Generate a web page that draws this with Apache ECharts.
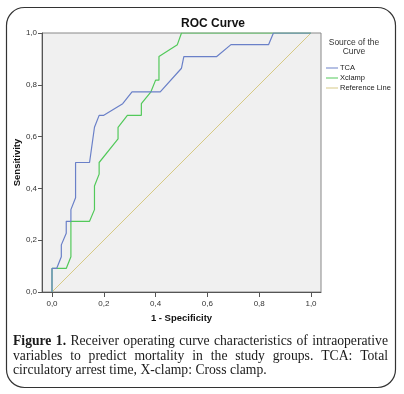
<!DOCTYPE html>
<html>
<head>
<meta charset="utf-8">
<script src="https://cdn.jsdelivr.net/npm/echarts@6/dist/echarts.min.js"></script>
<style>html,body{margin:0;padding:0;background:#fff}#c{width:404px;height:394px}</style>
</head>
<body>
<div id="c"></div>
<script>
// ---- data ----
var tickValues = [0, 0.2, 0.4, 0.6, 0.8, 1.0];
var tcaFpr = [0, 0, 0.018, 0.036, 0.036, 0.055, 0.055, 0.073, 0.073, 0.091, 0.091, 0.145, 0.164, 0.182, 0.2, 0.273, 0.309, 0.418, 0.5, 0.509, 0.636, 0.691, 0.836, 0.855, 1];
var tcaTpr = [0, 0.091, 0.091, 0.136, 0.182, 0.227, 0.273, 0.273, 0.318, 0.364, 0.5, 0.5, 0.636, 0.682, 0.682, 0.727, 0.773, 0.773, 0.864, 0.909, 0.909, 0.955, 0.955, 1, 1];
var xcFpr = [0, 0, 0.055, 0.073, 0.073, 0.145, 0.164, 0.164, 0.182, 0.182, 0.255, 0.255, 0.291, 0.345, 0.345, 0.382, 0.4, 0.413, 0.413, 0.484, 0.5, 1];
var xcTpr = [0, 0.091, 0.091, 0.136, 0.273, 0.273, 0.318, 0.409, 0.455, 0.5, 0.591, 0.636, 0.682, 0.682, 0.727, 0.773, 0.818, 0.818, 0.909, 0.955, 1, 1];
var refX = [0, 1];
var refY = [0, 1];
var seriesNames = ['TCA', 'Xclamp', 'Reference Line'];
var captionLines = [
  'Receiver operating curve characteristics of intraoperative',
  'variables to predict mortality in the study groups. TCA: Total',
  'circulatory arrest time, X-clamp: Cross clamp.'
];

function pairs(xs, ys) { return xs.map(function (x, i) { return [x, ys[i]]; }); }
function fmt(v) { return v.toFixed(1).replace('.', ','); }

// ---- caption layout (justified) ----
var capFamily = '"Liberation Serif", serif';
var mctx = document.createElement('canvas').getContext('2d');
function measure(t, size, weight) {
  mctx.font = (weight || 'normal') + ' ' + size + 'px ' + capFamily;
  return mctx.measureText(t).width;
}
var capLeft = 13, capRight = 388, capY = [341, 356, 370.5];
var capSize = 10 * 254 / measure(captionLines[2], 10);
var capEls = [];
function justify(words, y, weights, justifyIt) {
  var widths = words.map(function (w, i) { return measure(w, capSize, weights[i]); });
  var total = widths.reduce(function (a, b) { return a + b; }, 0);
  var space = measure(' ', capSize);
  var gap = justifyIt ? (capRight - capLeft - total) / (words.length - 1) : space;
  var x = capLeft;
  words.forEach(function (w, i) {
    capEls.push({ type: 'text', x: x, y: y, style: { text: w, font: weights[i] + ' ' + capSize.toFixed(2) + 'px ' + capFamily, fill: '#1a1a1a', textVerticalAlign: 'middle' } });
    x += widths[i] + gap;
  });
}
(function () {
  var w1 = ['Figure', '1.'].concat(captionLines[0].split(' '));
  justify(w1, capY[0], w1.map(function (w, i) { return i < 2 ? 'bold' : 'normal'; }), true);
  var w2 = captionLines[1].split(' ');
  justify(w2, capY[1], w2.map(function () { return 'normal'; }), true);
  var w3 = captionLines[2].split(' ');
  justify(w3, capY[2], w3.map(function () { return 'normal'; }), false);
})();

var chart = echarts.init(document.getElementById('c'), null, { renderer: 'canvas' });
var axisFont = { fontFamily: 'Liberation Sans', fontSize: 8, color: '#333' };
var option = {
  animation: false,
  grid: { left: 42, right: 83, top: 33, bottom: 102, show: true, backgroundColor: '#f0f0f0', borderColor: '#888', borderWidth: 1, containLabel: false, outerBoundsMode: 'none' },
  xAxis: {
    type: 'value', min: -0.0386, max: 1.0386,
    name: '1 - Specificity', nameLocation: 'middle', nameGap: 21, nameMoveOverlap: false,
    nameTextStyle: { fontFamily: 'Liberation Sans', fontWeight: 'bold', fontSize: 9.5, color: '#111' },
    axisLine: { show: true, onZero: false, lineStyle: { color: '#555' } },
    axisTick: { show: true, length: 5, lineStyle: { color: '#555' }, customValues: tickValues },
    axisLabel: Object.assign({ margin: 8, formatter: fmt, customValues: tickValues }, axisFont),
    splitLine: { show: false }
  },
  yAxis: {
    type: 'value', min: 0, max: 1, interval: 0.2,
    name: 'Sensitivity', nameLocation: 'middle', nameGap: 20, nameMoveOverlap: false,
    nameTextStyle: { fontFamily: 'Liberation Sans', fontWeight: 'bold', fontSize: 9.5, color: '#111' },
    axisLine: { show: true, onZero: false, lineStyle: { color: '#555' } },
    axisTick: { show: true, length: 4, lineStyle: { color: '#555' } },
    axisLabel: Object.assign({ margin: 5, formatter: fmt }, axisFont),
    splitLine: { show: false }
  },
  legend: {
    orient: 'vertical', left: 321, top: 59, itemWidth: 12, itemHeight: 6, itemGap: 2,
    icon: 'path://M0,3L12,3L12,4L0,4Z',
    textStyle: { fontFamily: 'Liberation Sans', fontSize: 7.5, color: '#222', padding: [0, 0, 0, -3] },
    data: seriesNames
  },
  series: [
    { name: seriesNames[2], type: 'line', data: pairs(refX, refY), showSymbol: false, symbol: 'none', lineStyle: { color: '#d6c984', width: 1 }, itemStyle: { color: '#d6c984' }, z: 1 },
    { name: seriesNames[1], type: 'line', data: pairs(xcFpr, xcTpr), showSymbol: false, symbol: 'none', lineStyle: { color: '#52c95a', width: 1.2 }, itemStyle: { color: '#52c95a' }, z: 2 },
    { name: seriesNames[0], type: 'line', data: pairs(tcaFpr, tcaTpr), showSymbol: false, symbol: 'none', lineStyle: { color: '#6a80c8', width: 1.2 }, itemStyle: { color: '#6a80c8' }, z: 3 }
  ],
  graphic: [
    { type: 'rect', shape: { x: 6.5, y: 7.5, width: 389, height: 380, r: 18 }, style: { fill: 'none', stroke: '#333', lineWidth: 1.2 }, z: -10 },
    { type: 'text', x: 213, y: 24, style: { text: 'ROC Curve', font: 'bold 12px "Liberation Sans"', fill: '#111', textAlign: 'center', textVerticalAlign: 'middle' } },
    { type: 'text', x: 354, y: 47, style: { text: 'Source of the\nCurve', font: '8.5px "Liberation Sans"', fill: '#333', textAlign: 'center', textVerticalAlign: 'middle', lineHeight: 9 } }
  ].concat(capEls)
};
chart.setOption(option);
</script>
</body>
</html>
